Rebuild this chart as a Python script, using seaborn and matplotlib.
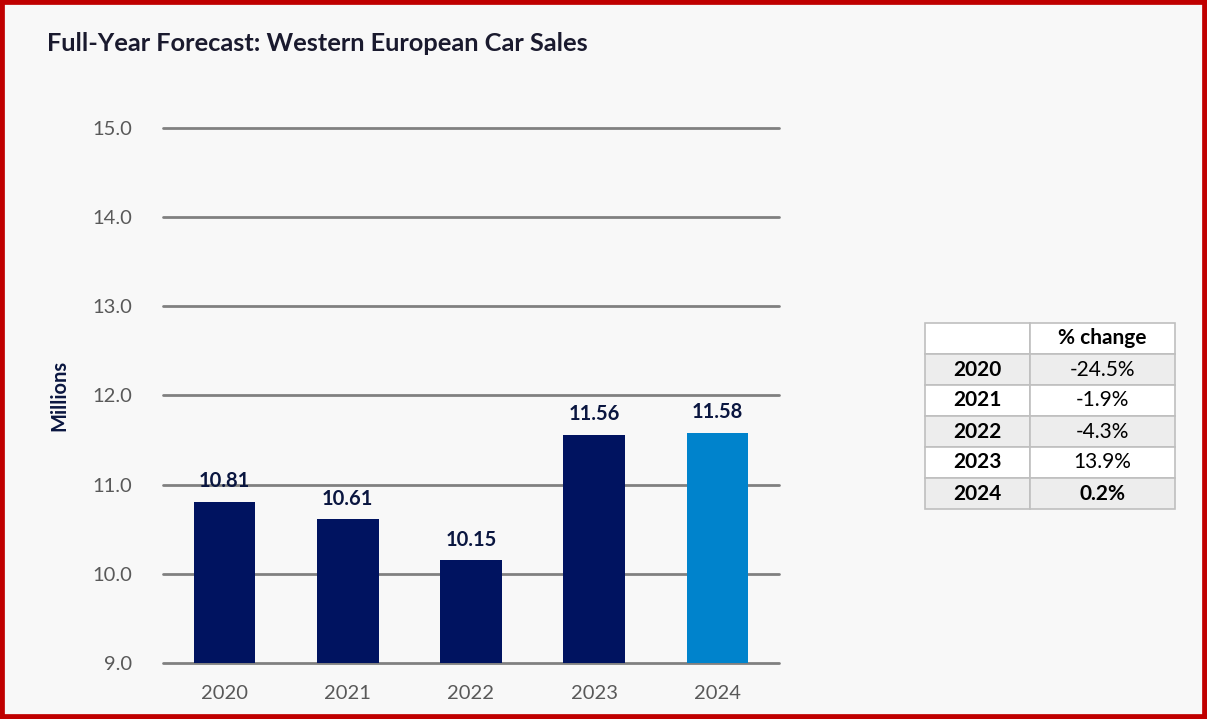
import matplotlib.pyplot as plt
import seaborn as sns
import pandas as pd

years = ['2020', '2021', '2022', '2023', '2024']
sales = [10.81, 10.61, 10.15, 11.56, 11.58]
pct_change = ['-24.5%', '-1.9%', '-4.3%', '13.9%', '0.2%']
bar_colors = ['#001360', '#001360', '#001360', '#001360', '#0083CC']

title = 'Full-Year Forecast: Western European Car Sales'

sns.set_theme(style='white')
plt.rcParams['font.family'] = ['Lato', 'DejaVu Sans']

bg = '#f8f8f8'
fig = plt.figure(figsize=(12.07, 7.19), dpi=100, facecolor=bg)

ax = fig.add_axes([0.135, 0.078, 0.5104, 0.744], facecolor=bg)
df = pd.DataFrame({'year': years, 'sales': sales})
sns.barplot(data=df, x='year', y='sales', hue='year', palette=bar_colors,
            width=0.5, legend=False, ax=ax, zorder=3, saturation=1, linewidth=0)

ax.set_ylim(9, 15)
ax.set_xlim(-0.5, 4.5)
ax.set_yticks(range(9, 16))
ax.set_yticklabels([f'{v:.1f}' for v in range(9, 16)])
ax.yaxis.grid(True, color='#808080', linewidth=2)
for gl in ax.get_ygridlines():
    gl.set_clip_on(False)
ax.set_axisbelow(True)
for s in ax.spines.values():
    s.set_visible(False)
ax.tick_params(axis='both', length=0, labelsize=14.5, colors='#595959')
ax.tick_params(axis='y', pad=22)
ax.tick_params(axis='x', pad=16)
ax.set_xlabel('')
ax.set_ylabel('Millions', fontsize=14.5, fontweight='bold', color='#0a1640', labelpad=17)

for i, v in enumerate(sales):
    ax.text(i, v + 0.12, f'{v:.2f}', ha='center', va='bottom', fontsize=14.5,
            fontweight='bold', color='#0a1640')

fig.text(0.039, 0.94, title, fontsize=18.3, fontweight='bold', color='#1a1a2e',
         ha='left', va='center')

# table on the right
tax = fig.add_axes([925 / 1207, 1 - 509 / 719, 250 / 1207, 186 / 719])
tax.axis('off')
cells = [['', '% change']] + [[y, p] for y, p in zip(years, pct_change)]
tbl = tax.table(cellText=cells, bbox=[0, 0, 1, 1], colWidths=[0.42, 0.58],
                cellLoc='center')
tbl.auto_set_font_size(False)
for (r, c), cell in tbl.get_celld().items():
    cell.set_edgecolor('#bfbfbf')
    cell.set_linewidth(1.2)
    cell.set_facecolor('#ededed' if r % 2 == 1 else 'white')
    txt = cell.get_text()
    txt.set_fontsize(15)
    txt.set_color('black')
    if r == 0 or c == 0 or r == 5:
        txt.set_fontweight('bold')

# red frame
fig.patches.append(plt.Rectangle((0, 0), 1, 1, transform=fig.transFigure,
                                 fill=False, edgecolor='#c00000', linewidth=7))

fig.savefig('out.png', dpi=100, facecolor=bg)
